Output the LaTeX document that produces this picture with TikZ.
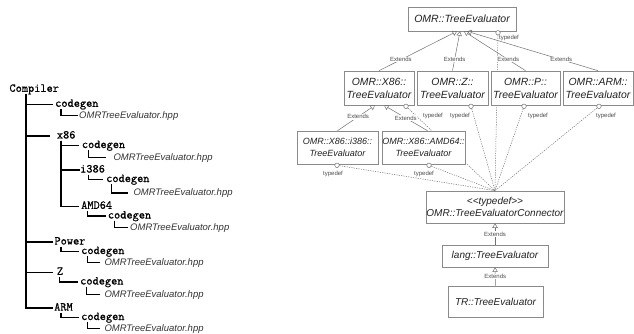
\documentclass[tikz,border=0pt]{standalone}
\usepackage{fontspec}
\setmainfont{Liberation Sans}
\newfontfamily\monob{Latin Modern Mono}[FakeBold=0.8]
\usetikzlibrary{arrows.meta,backgrounds}
\definecolor{boxline}{HTML}{8A8A8A}
\definecolor{linkline}{HTML}{707070}
\definecolor{txt}{HTML}{222222}
\definecolor{hpptxt}{HTML}{333333}
\begin{document}
\begin{tikzpicture}[x=1pt,y=-1pt,
  dir/.style={anchor=west, inner sep=0pt, font=\monob\fontsize{12}{13}\selectfont, text height=7pt, text depth=2pt},
  file/.style={anchor=west, inner sep=0pt, font=\itshape\fontsize{9.5}{11}\selectfont, text=hpptxt, text height=7pt, text depth=2pt},
  trunk/.style={line width=1.4pt},
  elbow/.style={line width=1.2pt},
  cls/.style={draw=boxline, line width=0.6pt, fill=white, text=txt, align=center, inner sep=0pt},
  topcls/.style={cls, minimum width=108pt, minimum height=24pt, font=\itshape\fontsize{10.5}{12}\selectfont},
  lvtwo/.style={cls, minimum width=70pt, minimum height=34pt, font=\itshape\fontsize{10.4}{13}\selectfont},
  lvthree/.style={cls, minimum width=81pt, minimum height=33pt, font=\itshape\fontsize{9}{12}\selectfont},
  lowcls/.style={cls, font=\itshape\fontsize{10}{12}\selectfont},
  ext/.style={draw=linkline, line width=0.5pt, -{Triangle[open, length=4.5pt, width=5.5pt]}},
  tdef/.style={draw=linkline, line width=0.5pt, dash pattern=on 1.2pt off 1.2pt},
  ball/.style={circle, draw=linkline, fill=white, line width=0.5pt, inner sep=0pt, minimum size=4.5pt},
  lbl/.style={font=\fontsize{6}{7}\selectfont, text=black!70, inner sep=0.6pt, fill=white},
  tlbl/.style={font=\fontsize{6}{7}\selectfont, text=black!70, inner sep=0pt},
]
\useasboundingbox (0,0) rectangle (634,334);

% ---------------- left: directory tree ----------------
\node[dir] (comp) at (9.3,89.3) {Compiler};
\node[dir] (cg0) at (55,104.3) {codegen};
\node[file] (f0) at (79,115.5) {OMRTreeEvaluator.hpp};
\node[dir] (x86) at (56.7,136) {x86};
\node[dir] (cgx) at (81.7,145.5) {codegen};
\node[file] (fx) at (113.3,157.5) {OMRTreeEvaluator.hpp};
\node[dir] (i386) at (80,170) {i386};
\node[dir] (cgi) at (106,179.5) {codegen};
\node[file] (fi) at (133.3,193) {OMRTreeEvaluator.hpp};
\node[dir] (amd) at (81,206.3) {AMD64};
\node[dir] (cga) at (107.7,216) {codegen};
\node[file] (fa) at (130,227.7) {OMRTreeEvaluator.hpp};
\node[dir] (pow) at (54.3,242) {Power};
\node[dir] (cgp) at (81,251.5) {codegen};
\node[file] (fp) at (104.3,262.5) {OMRTreeEvaluator.hpp};
\node[dir] (z) at (56.7,272.3) {Z};
\node[dir] (cgz) at (80,282) {codegen};
\node[file] (fz) at (104.3,294.5) {OMRTreeEvaluator.hpp};
\node[dir] (arm) at (54,308) {ARM};
\node[dir] (cgr) at (81,317.5) {codegen};
\node[file] (fr) at (104.3,328.5) {OMRTreeEvaluator.hpp};

\draw[trunk] ([xshift=16.7pt]comp.south west) |- ([xshift=-2.3pt]cg0.west);
\draw[trunk] ([xshift=16.7pt]comp.south west) |- ([xshift=-6.7pt]x86.west);
\draw[trunk] ([xshift=16.7pt]comp.south west) |- ([xshift=-1pt]pow.west);
\draw[trunk] ([xshift=16.7pt]comp.south west) |- ([xshift=-4pt]z.west);
\draw[trunk] ([xshift=16.7pt]comp.south west) |- ([xshift=-1.3pt]arm.west);

\draw[elbow] ([xshift=6pt]cg0.south west) |- ([xshift=-1.3pt]f0.west);
\draw[elbow] ([xshift=4.3pt]x86.south west) |- ([xshift=-2.7pt]cgx.west);
\draw[elbow] ([xshift=4.3pt]x86.south west) |- ([xshift=-0.5pt]i386.west);
\draw[elbow] ([xshift=4.3pt]x86.south west) |- ([xshift=-2pt]amd.west);
\draw[elbow] ([xshift=6.6pt]cgx.south west) |- ([xshift=-7.3pt]fx.west);
\draw[elbow] ([xshift=8.3pt]i386.south west) |- ([xshift=-2.7pt]cgi.west);
\draw[elbow] ([xshift=5.7pt]cgi.south west) |- ([xshift=-5pt]fi.west);
\draw[elbow] ([xshift=6.7pt]amd.south west) |- ([xshift=-1.7pt]cga.west);
\draw[elbow] ([xshift=6.6pt]cga.south west) |- ([xshift=-1.7pt]fa.west);
\draw[elbow] ([xshift=6.7pt]pow.south west) |- ([xshift=-1.7pt]cgp.west);
\draw[elbow] ([xshift=6.3pt]cgp.south west) |- ([xshift=-4.3pt]fp.west);
\draw[elbow] ([xshift=2.6pt]z.south west) |- ([xshift=-1.7pt]cgz.west);
\draw[elbow] ([xshift=6.7pt]cgz.south west) |- ([xshift=-4.3pt]fz.west);
\draw[elbow] ([xshift=7pt]arm.south west) |- ([xshift=-1.7pt]cgr.west);
\draw[elbow] ([xshift=6.7pt]cgr.south west) |- ([xshift=-4.3pt]fr.west);

% ---------------- right: class diagram ----------------
\node[topcls] (top) at (462,19) {OMR::TreeEvaluator};
\node[lvtwo] (x86c) at (379,88) {OMR::X86::\\TreeEvaluator};
\node[lvtwo, minimum width=71pt] (zc) at (452.5,88) {OMR::Z::\\TreeEvaluator};
\node[lvtwo, minimum width=69pt] (pc) at (525.5,88) {OMR::P::\\TreeEvaluator};
\node[lvtwo] (armc) at (598,88) {OMR::ARM::\\TreeEvaluator};
\node[lvthree] (i386c) at (337.5,147.5) {OMR::X86::i386::\\TreeEvaluator};
\node[lvthree, minimum width=83pt] (amdc) at (423.5,147.5) {OMR::X86::AMD64::\\TreeEvaluator};
\node[lowcls, minimum width=138pt, minimum height=32pt] (conn) at (495,207) {{<}{<}typedef{>}{>}\\OMR::TreeEvaluatorConnector};
\node[lowcls, minimum width=106pt, minimum height=22pt] (langc) at (495,256) {lang::TreeEvaluator};
\node[lowcls, minimum width=95pt, minimum height=31pt] (trc) at (495.5,301.5) {TR::TreeEvaluator};

% typedef balls
\node[ball] (btop) at ([xshift=36pt,yshift=-1.5pt]top.south) {};
\node[ball] (bx86) at ([xshift=27pt,yshift=-1pt]x86c.south) {};
\node[ball] (bz) at ([xshift=18.5pt,yshift=-1pt]zc.south) {};
\node[ball] (bp) at ([xshift=-1.5pt,yshift=-1pt]pc.south) {};
\node[ball] (barm) at ([xshift=1pt,yshift=-1pt]armc.south) {};
\node[ball] (bi386) at ([xshift=-0.5pt,yshift=-1pt]i386c.south) {};
\node[ball] (bamd) at ([xshift=5.5pt,yshift=-1pt]amdc.south) {};

\node[tlbl] (ttop) at (509,38) {typedef};
\node[tlbl] (tx86) at (433,116) {typedef};
\node[tlbl] (tz) at (460,116) {typedef};
\node[tlbl] (tp) at (538,116) {typedef};
\node[tlbl] (tarm) at (606,116) {typedef};
\node[tlbl] (ti386) at (333,174) {typedef};
\node[tlbl] (tamd) at (424,174) {typedef};

\begin{scope}[on background layer]
\draw[tdef] (btop) -- (conn.north);
\draw[tdef] (bx86) -- (conn.north);
\draw[tdef] (bz) -- (conn.north);
\draw[tdef] (bp) -- (conn.north);
\draw[tdef] (barm) -- (conn.north);
\draw[tdef] (bi386) -- (conn.north);
\draw[tdef] (bamd) -- (conn.north);
\end{scope}

% extends
\draw[ext] (x86c.north) -- node[lbl, pos=0.28] {Extends} ([xshift=-5pt]top.south);
\draw[ext] (zc.north) -- node[lbl, pos=0.28] {Extends} ([xshift=-2pt]top.south);
\draw[ext] (pc.north) -- node[lbl, pos=0.28] {Extends} ([xshift=2pt]top.south);
\draw[ext] (armc.north) -- node[lbl, pos=0.28] {Extends} ([xshift=5pt]top.south);
\draw[ext] (i386c.north) -- node[lbl, pos=0.55] {Extends} ([xshift=-4pt]x86c.south);
\draw[ext] ([xshift=4pt]amdc.north) -- node[lbl, pos=0.5] {Extends} ([xshift=5pt]x86c.south);
\draw[ext] (langc.north) -- node[lbl] {Extends} (conn.south);
\draw[ext] (trc.north) -- node[lbl] {Extends} (langc.south);
\end{tikzpicture}
\end{document}
